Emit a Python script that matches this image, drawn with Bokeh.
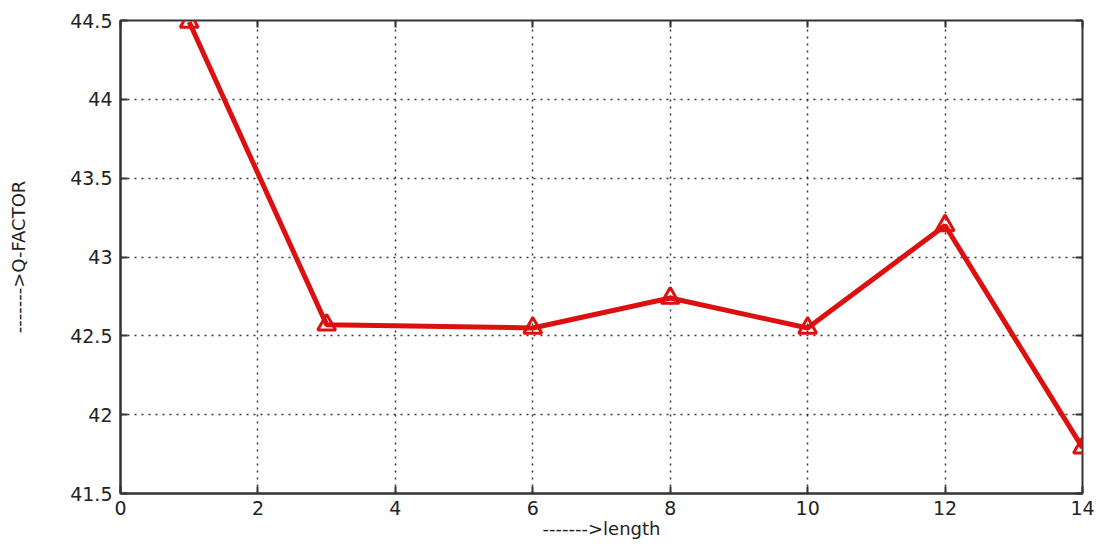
from bokeh.plotting import figure
from bokeh.models import LinearAxis, FixedTicker, Range1d
from bokeh.embed import file_html
from bokeh.resources import INLINE

length = [1, 3, 6, 8, 10, 12, 14]
q_factor = [44.49, 42.57, 42.55, 42.74, 42.55, 43.2, 41.79]
x_ticks = [0, 2, 4, 6, 8, 10, 12, 14]
y_ticks = [41.5, 42, 42.5, 43, 43.5, 44, 44.5]
y_tick_labels = {41.5: "41.5", 42: "42", 42.5: "42.5", 43: "43", 43.5: "43.5", 44: "44", 44.5: "44.5"}

FONT = "DejaVu Sans"

p = figure(width=1097, height=546, output_backend="svg", toolbar_location=None,
           x_range=Range1d(0, 14), y_range=Range1d(41.5, 44.5),
           min_border_left=120, min_border_right=15, min_border_top=20, min_border_bottom=53,
           x_axis_label="------->length", y_axis_label="------->Q-FACTOR")
p.outline_line_color = "#333333"
p.outline_line_width = 2
p.background_fill_color = "white"
p.border_fill_color = "white"

for ax in (p.xaxis[0], p.yaxis[0]):
    ax.major_tick_in = 7
    ax.major_tick_out = 0
    ax.minor_tick_line_color = None
    ax.axis_line_color = "#333333"
    ax.axis_line_width = 2
    ax.major_tick_line_color = "#333333"
    ax.major_tick_line_width = 2
    ax.major_label_text_font = FONT
    ax.major_label_text_font_size = "19px"
    ax.major_label_text_color = "#222222"
    ax.axis_label_text_font = FONT
    ax.axis_label_text_font_size = "18px"
    ax.axis_label_text_font_style = "normal"
    ax.axis_label_text_color = "#222222"

p.xaxis[0].ticker = FixedTicker(ticks=x_ticks)
p.yaxis[0].ticker = FixedTicker(ticks=y_ticks)
p.yaxis[0].major_label_overrides = y_tick_labels
p.xaxis[0].major_label_standoff = 7
p.yaxis[0].major_label_standoff = 8
p.xaxis[0].axis_label_standoff = 0
p.yaxis[0].axis_label_standoff = 38

blank_x = {t: "" for t in x_ticks}
blank_y = {t: "" for t in y_ticks}
top = LinearAxis(ticker=FixedTicker(ticks=x_ticks), major_label_overrides=blank_x,
                 major_tick_in=7, major_tick_out=0, minor_tick_line_color=None,
                 axis_line_color=None, major_tick_line_color="#333333", major_tick_line_width=2,
                 major_label_standoff=0)
right = LinearAxis(ticker=FixedTicker(ticks=y_ticks), major_label_overrides=blank_y,
                   major_tick_in=7, major_tick_out=0, minor_tick_line_color=None,
                   axis_line_color=None, major_tick_line_color="#333333", major_tick_line_width=2,
                   major_label_standoff=0)
p.add_layout(top, "above")
p.add_layout(right, "right")

p.xgrid.ticker = FixedTicker(ticks=x_ticks)
p.ygrid.ticker = FixedTicker(ticks=y_ticks)
for g in (p.xgrid[0], p.ygrid[0]):
    g.grid_line_color = "#222222"
    g.grid_line_dash = "2 5"
    g.grid_line_width = 1.5
    g.grid_line_alpha = 0.9

p.line(length, q_factor, line_color="#dd1010", line_width=5)
p.scatter(length, q_factor, marker="triangle", size=18, fill_color=None,
          line_color="#dd1010", line_width=3)

open("out.html", "w").write(file_html(p, INLINE))
